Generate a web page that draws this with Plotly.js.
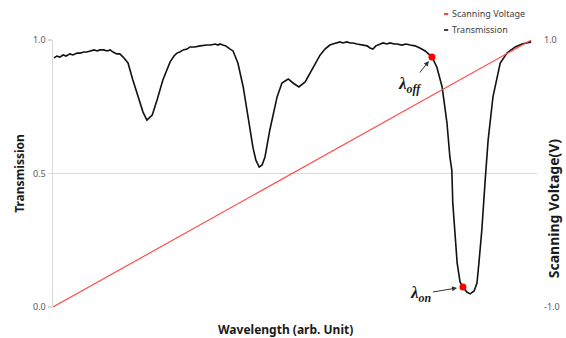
<!DOCTYPE html>
<html>
<head>
<meta charset="utf-8">
<script src="https://cdn.plot.ly/plotly-3.0.1.min.js"></script>
<style>html,body{margin:0;padding:0;background:#fff;}#chart{width:566px;height:338px;}</style>
</head>
<body>
<div id="chart"></div>
<script>
// Wavelength (arb. units) and transmission
const wavelength = [2,8,14,21,27,35,41,50,56,64,70,76,85,91,97,105,112,118,124,132,138,145,
  155,165,176,186,194,205,215,227,242,
  250,256,262,269,277,283,293,304,312,318,326,335,341,345,351,357,366,372,
  382,393,403,413,419,426,432,438,448,463,473,486,496,508,521,535,552,562,572,
  578,587,593,599,607,614,620,628,638,649,655,661,667,671,682,690,696,705,711,721,729,738,748,758,769,
  783,793,804,814,820,824,826,831,835,841,847,855,862,870,876,880,886,893,899,909,924,938,955,969,981,988];
const transmission = [0.933,0.940,0.936,0.944,0.940,0.948,0.944,0.951,0.951,0.955,0.955,0.959,0.963,0.959,0.963,0.963,0.959,0.963,0.955,0.948,0.948,0.936,
  0.914,0.850,0.787,0.730,0.700,0.719,0.775,0.850,0.918,
  0.940,0.951,0.955,0.963,0.966,0.974,0.974,0.978,0.981,0.981,0.981,0.985,0.981,0.985,0.981,0.978,0.966,0.959,
  0.914,0.824,0.712,0.599,0.551,0.524,0.532,0.562,0.663,0.787,0.839,0.854,0.839,0.824,0.843,0.888,0.944,0.966,0.981,
  0.985,0.989,0.993,0.989,0.993,0.989,0.989,0.985,0.981,0.978,0.970,0.966,0.978,0.981,0.989,0.985,0.989,0.985,0.985,0.981,0.985,0.981,0.978,0.970,0.959,
  0.936,0.899,0.824,0.689,0.562,0.513,0.390,0.262,0.165,0.094,0.075,0.056,0.049,0.060,0.090,0.165,0.288,0.476,0.625,0.787,0.914,0.951,0.974,0.985,0.989,0.993];

// Scanning voltage ramp (V)
const voltageWavelength = [0, 988];
const voltage = [-1.0, 1.0];

// Marked wavelengths
const markerNames = ['λoff', 'λon'];
const markerWavelength = [783, 847];
const markerTransmission = [0.936, 0.075];

const leftTicks = [0, 0.5, 1.0];
const leftTickText = ['0.0', '0.5', '1.0'];
const rightTicks = [-1, 1];
const rightTickText = ['-1.0', '1.0'];

const legendNames = ['Scanning Voltage', 'Transmission'];
const legendColors = ['#ff0000', '#000000'];

const font = 'Noto Sans, Open Sans, sans-serif';
const lamFont = {family: 'Liberation Serif, DejaVu Serif, serif', size: 17, color: '#1a1a1a'};

const traces = [
  {x: voltageWavelength, y: voltage, yaxis: 'y2', mode: 'lines', name: legendNames[0],
   line: {color: '#ff4d4d', width: 1.2}, hoverinfo: 'skip'},
  {x: wavelength, y: transmission, mode: 'lines', name: legendNames[1],
   line: {color: '#111111', width: 1.6}},
  {x: markerWavelength, y: markerTransmission, mode: 'markers', text: markerNames,
   marker: {color: '#ff0000', size: 7}, showlegend: false}
];

const legendAnn = [];
const legendShapes = [];
legendNames.forEach((n, i) => {
  const ys = 1.0 + (26 - 16 * i) / 267;
  legendAnn.push({xref: 'paper', yref: 'paper', x: 0.809, xshift: 5, y: ys, xanchor: 'left', yanchor: 'middle',
    showarrow: false, text: n, font: {size: 9, color: '#404040'}});
  legendShapes.push({type: 'line', xref: 'paper', yref: 'paper', x0: 0.808, x1: 0.8165, y0: ys, y1: ys,
    line: {color: legendColors[i], width: 1.5}});
});

const layout = {
  width: 566, height: 338,
  margin: {l: 53, r: 29, t: 40, b: 31, pad: 0},
  paper_bgcolor: '#ffffff', plot_bgcolor: '#ffffff',
  showlegend: false,
  font: {family: font, size: 9, color: '#595959'},
  xaxis: {range: [0, 1000], showgrid: false, zeroline: false, showline: false,
          showticklabels: false, ticks: ''},
  yaxis: {range: [0, 1.0], tickvals: leftTicks, ticktext: leftTickText,
          showgrid: true, gridcolor: '#d9d9d9', gridwidth: 1.5, zeroline: false,
          showline: true, linecolor: '#d9d9d9', linewidth: 1.5,
          ticks: 'outside', ticklen: 4, tickcolor: '#d9d9d9', tickwidth: 1.5,
          tickfont: {size: 9, color: '#595959'},
          title: {text: '<b>Transmission</b>', font: {size: 12, color: '#1a1a1a'}, standoff: 6}},
  yaxis2: {range: [-1, 1], overlaying: 'y', side: 'right', tickvals: rightTicks, ticktext: rightTickText,
           showgrid: false, zeroline: false, showline: false, ticks: '', ticklabelstandoff: 6,
           tickfont: {size: 9, color: '#595959'}},
  shapes: legendShapes,
  annotations: [
    {xref: 'paper', yref: 'paper', x: 0.48, y: -0.085, yanchor: 'middle', showarrow: false,
     text: '<b>Wavelength (arb. Unit)</b>', font: {size: 12, color: '#1a1a1a'}},
    {xref: 'paper', x: 1.0, xanchor: 'center', xshift: 16, yref: 'paper', y: 0.37, yanchor: 'middle',
     showarrow: false, textangle: -90,
     text: '<b>Scanning Voltage(V)</b>', font: {size: 14, color: '#1a1a1a'}},
    {x: markerWavelength[0], y: markerTransmission[0], xref: 'x', yref: 'y',
     text: '<b><i>λ<sub>off</sub></i></b>', showarrow: true, ax: -22, ay: 28,
     arrowhead: 2, arrowsize: 1, arrowwidth: 1, arrowcolor: '#333333', standoff: 5, font: lamFont},
    {x: markerWavelength[1], y: markerTransmission[1], xref: 'x', yref: 'y',
     text: '<b><i>λ<sub>on</sub></i></b>', showarrow: true, ax: -42, ay: 7,
     arrowhead: 2, arrowsize: 1, arrowwidth: 1, arrowcolor: '#333333', standoff: 6, font: lamFont}
  ].concat(legendAnn)
};

Plotly.newPlot('chart', traces, layout, {displayModeBar: false, staticPlot: true});
</script>
</body>
</html>
